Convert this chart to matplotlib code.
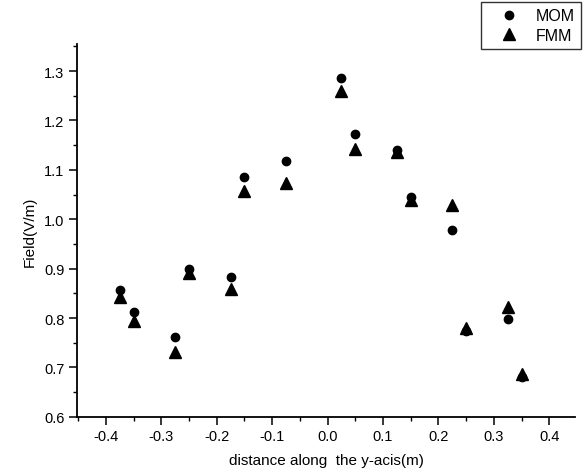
import numpy as np
import matplotlib.pyplot as plt
from matplotlib.ticker import MultipleLocator

plt.rcParams['font.family'] = ['Liberation Sans', 'DejaVu Sans']

# distance along the y axis (m)
distance = [-0.375, -0.35, -0.275, -0.25, -0.175, -0.15, -0.075,
            0.025, 0.05, 0.125, 0.15, 0.225, 0.25, 0.325, 0.35]
# field values (V/m)
field_mom = [0.857, 0.812, 0.761, 0.899, 0.884, 1.086, 1.118,
             1.286, 1.173, 1.140, 1.046, 0.978, 0.774, 0.799, 0.681]
field_fmm = [0.843, 0.795, 0.731, 0.891, 0.858, 1.058, 1.073,
             1.260, 1.142, 1.136, 1.038, 1.028, 0.780, 0.823, 0.686]

fig = plt.figure(figsize=(5.83, 4.77), dpi=100)
ax = fig.add_axes([0.132, 0.124, 0.855, 0.782])

ax.plot(distance, field_mom, 'o', color='black', markersize=6, label='MOM')
ax.plot(distance, field_fmm, '^', color='black', markersize=8, label='FMM')

ax.set_xlim(-0.452, 0.447)
ax.set_ylim(0.6, 1.355)
ax.xaxis.set_major_locator(MultipleLocator(0.1))
ax.xaxis.set_minor_locator(MultipleLocator(0.05))
ax.yaxis.set_major_locator(MultipleLocator(0.1))
ax.yaxis.set_minor_locator(MultipleLocator(0.05))
ax.xaxis.set_major_formatter(plt.FormatStrFormatter('%.1f'))
ax.yaxis.set_major_formatter(plt.FormatStrFormatter('%.1f'))

for side in ['top', 'right']:
    ax.spines[side].set_visible(False)
for side in ['left', 'bottom']:
    ax.spines[side].set_linewidth(1.3)

ax.tick_params(which='major', direction='out', length=5.5, width=1.1, labelsize=10.5)
ax.tick_params(which='minor', direction='out', length=3, width=1)

ax.set_xlabel('distance along  the y-acis(m)', fontsize=11, labelpad=7)
ax.set_ylabel('Field(V/m)', fontsize=11, labelpad=5)

# legend box sits above the plot area in the top right corner
leg = ax.legend(loc='upper right', bbox_to_anchor=(0.997, 0.994), bbox_transform=fig.transFigure,
                fontsize=11.5, frameon=True, fancybox=False, edgecolor='black',
                handletextpad=0.4, borderpad=0.4, labelspacing=0.3, handlelength=2.6,
                borderaxespad=0)
leg.get_frame().set_linewidth(1.0)

fig.savefig('out.png', dpi=100)
